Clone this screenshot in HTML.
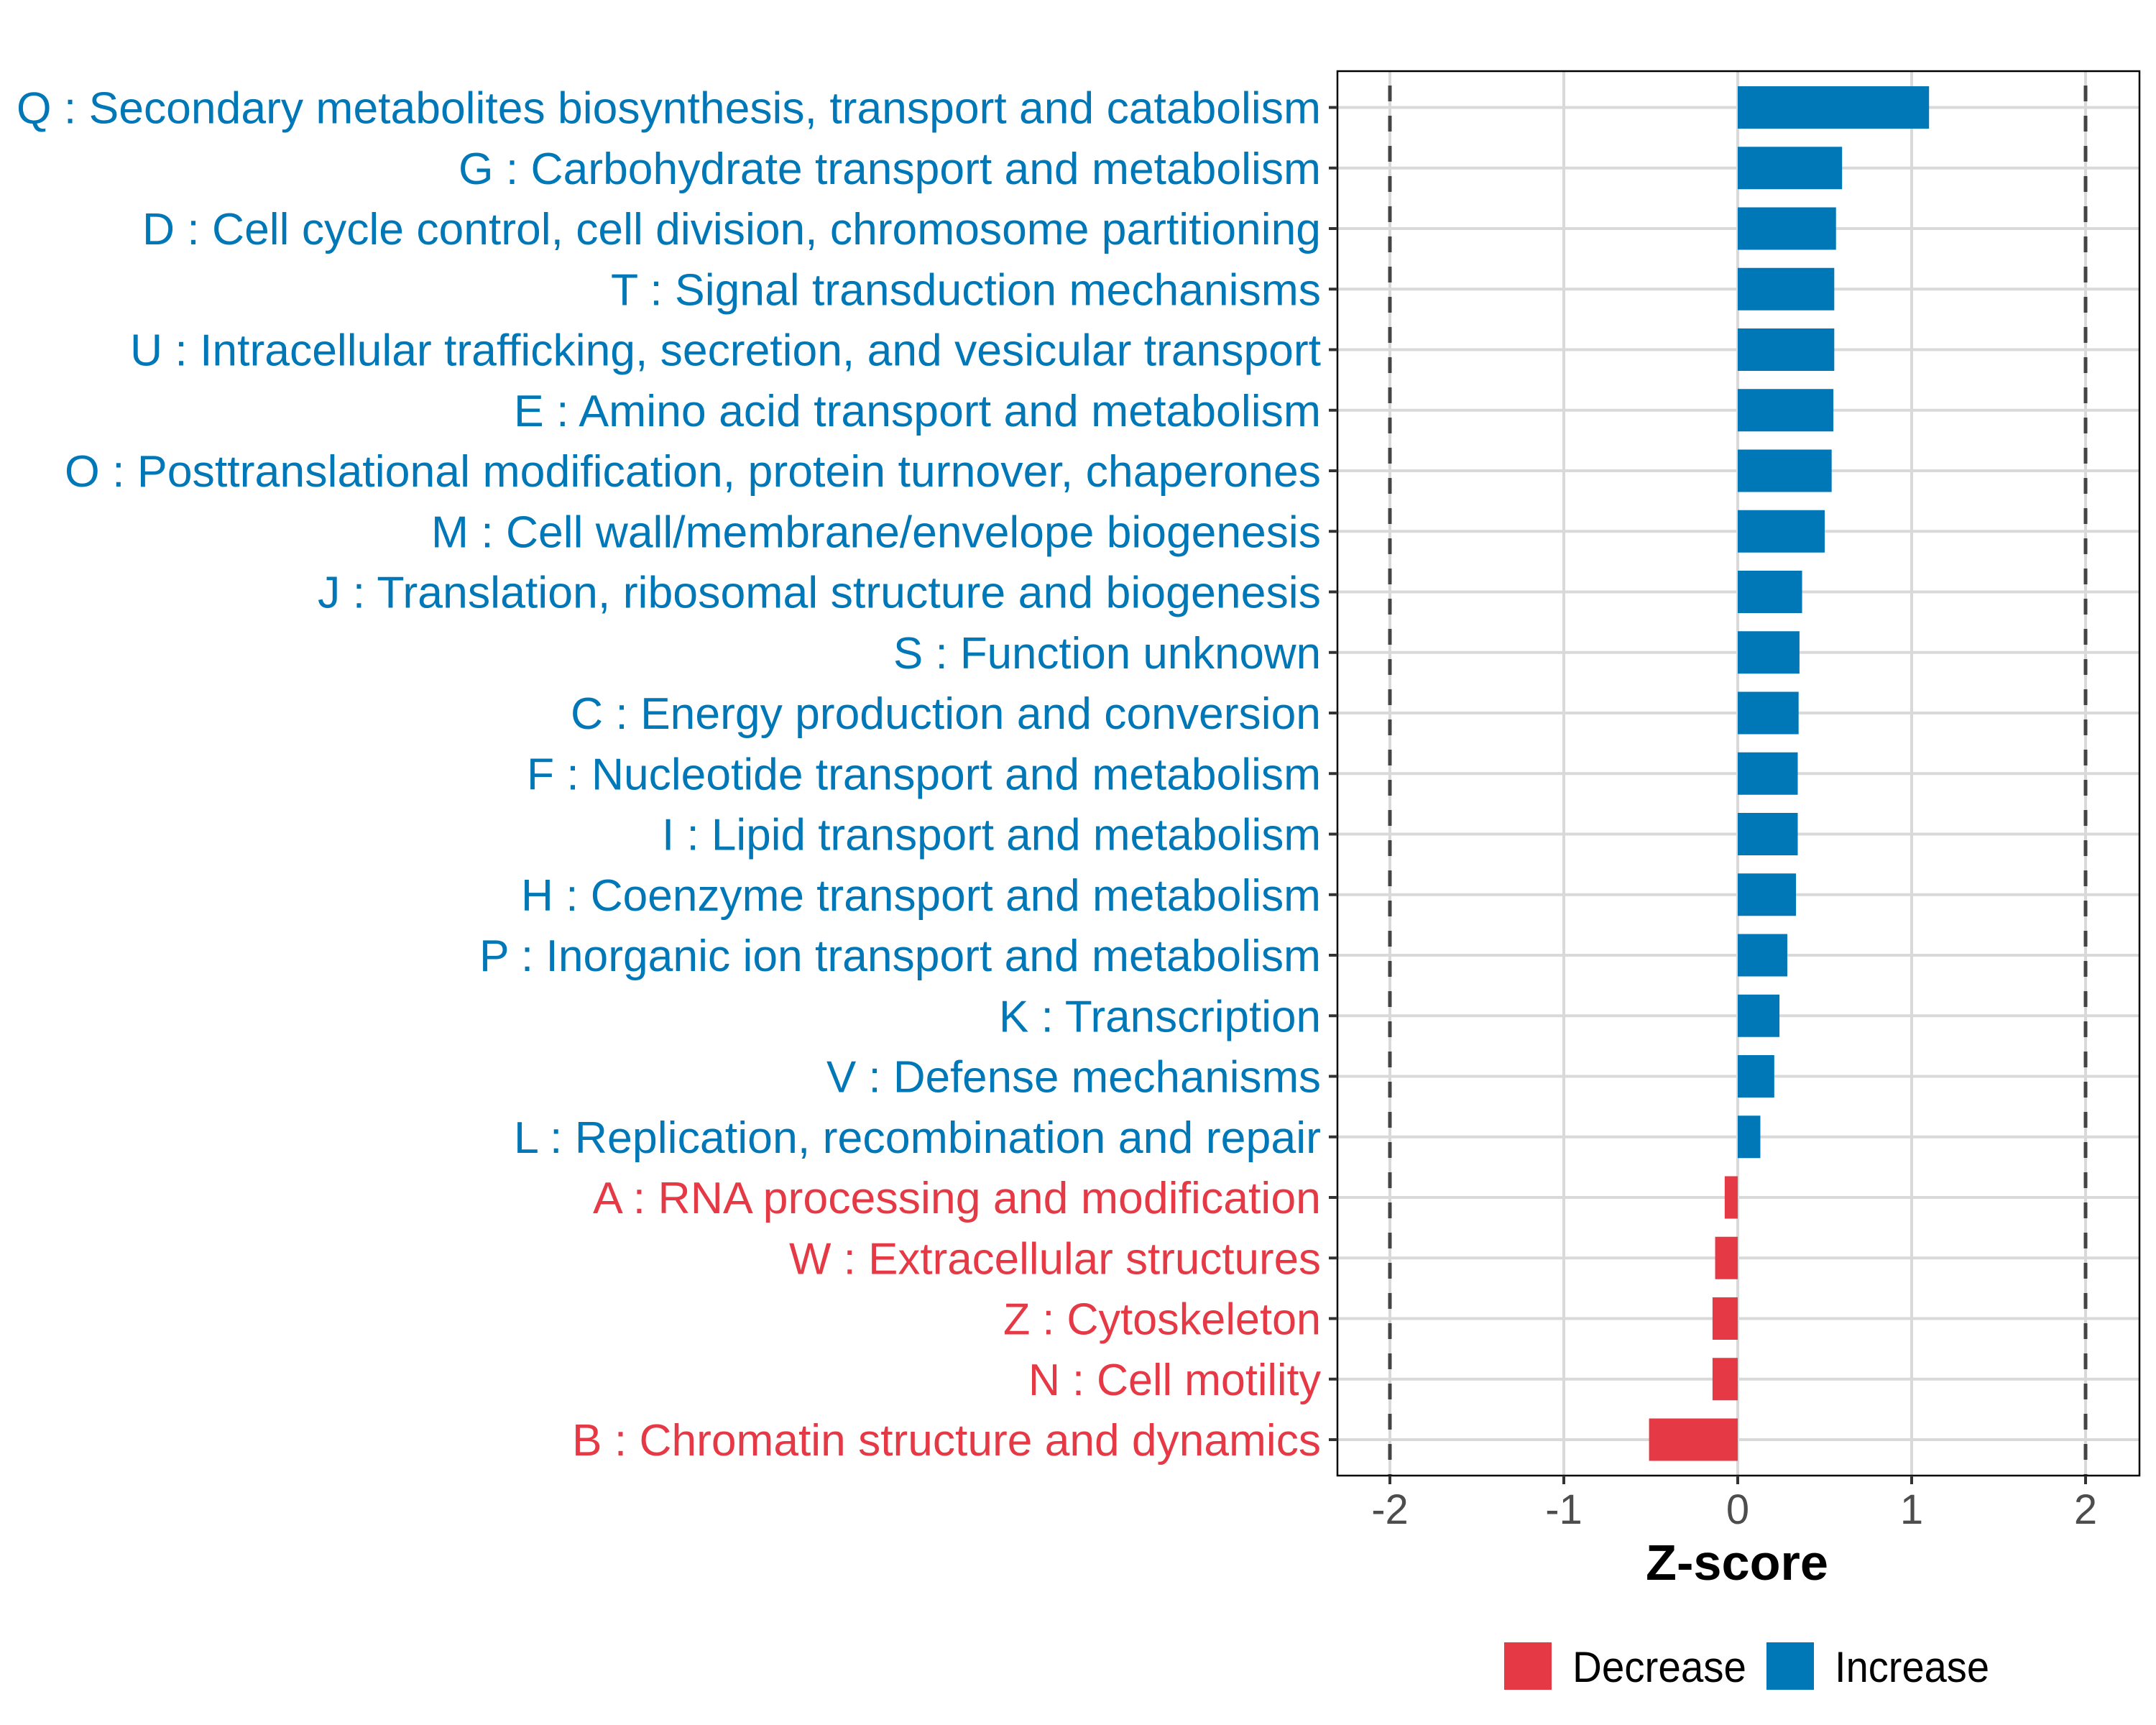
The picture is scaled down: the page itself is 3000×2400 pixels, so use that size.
<!DOCTYPE html>
<html><head><meta charset="utf-8"><style>
html,body{margin:0;padding:0;background:#fff;}
svg{display:block;font-family:"Liberation Sans",Arial,sans-serif;}
</style></head><body>
<svg id="chart" width="3000" height="2400" viewBox="0 0 3000 2400" xmlns="http://www.w3.org/2000/svg">
<rect x="0" y="0" width="3000" height="2400" fill="#fff"/>
<g id="grid"></g>
<g id="bars"></g>
<g id="ylabels"></g>
<g id="xaxis"></g>
<text x="2417" y="2198" text-anchor="middle" font-size="70" font-weight="bold" fill="#000" textLength="254" lengthAdjust="spacingAndGlyphs">Z-score</text>
<g>
<rect x="2093" y="2285" width="66" height="66" fill="#E63946"/>
<text x="2188" y="2340" font-size="60" fill="#000" textLength="242" lengthAdjust="spacingAndGlyphs">Decrease</text>
<rect x="2458" y="2285" width="66" height="66" fill="#0077B6"/>
<text x="2553" y="2340" font-size="60" fill="#000" textLength="215" lengthAdjust="spacingAndGlyphs">Increase</text>
</g>
</svg>
<script>
const categories = ["Q : Secondary metabolites biosynthesis, transport and catabolism","G : Carbohydrate transport and metabolism","D : Cell cycle control, cell division, chromosome partitioning","T : Signal transduction mechanisms","U : Intracellular trafficking, secretion, and vesicular transport","E : Amino acid transport and metabolism","O : Posttranslational modification, protein turnover, chaperones","M : Cell wall/membrane/envelope biogenesis","J : Translation, ribosomal structure and biogenesis","S : Function unknown","C : Energy production and conversion","F : Nucleotide transport and metabolism","I : Lipid transport and metabolism","H : Coenzyme transport and metabolism","P : Inorganic ion transport and metabolism","K : Transcription","V : Defense mechanisms","L : Replication, recombination and repair","A : RNA processing and modification","W : Extracellular structures","Z : Cytoskeleton","N : Cell motility","B : Chromatin structure and dynamics"];
const zscores = [1.10,0.60,0.565,0.555,0.555,0.55,0.54,0.50,0.37,0.355,0.35,0.345,0.345,0.335,0.285,0.24,0.21,0.13,-0.075,-0.13,-0.145,-0.145,-0.51];
const labelStarts = [23,638,198,850,181,715,90,600,442,1243,794,733,921,725,667,1390,1150,715,825,1098,1396,1431,796];
const xTicks = [-2,-1,0,1,2];
const xTickLabels = ["-2","-1","0","1","2"];
const thresholds = [-2,2];

const NS="http://www.w3.org/2000/svg";
const panel={left:1861,right:2977,top:99,bottom:2053};
const x0=2418, unit=242;
function xs(v){return x0+v*unit;}
const rowTop=149.5, rowStep=(2003-149.5)/(categories.length-1);
function ys(i){return rowTop+i*rowStep;}
const barH=59;
function mk(tag,attrs,parent){const e=document.createElementNS(NS,tag);for(const k in attrs)e.setAttribute(k,attrs[k]);parent.appendChild(e);return e;}
const grid=document.getElementById('grid'),bars=document.getElementById('bars'),yl=document.getElementById('ylabels'),xa=document.getElementById('xaxis');
xTicks.forEach((t,i)=>{
  const l=mk('line',{x1:xs(t),x2:xs(t),y1:panel.top,y2:panel.bottom,stroke:'#d9d9d9','stroke-width':4},grid);
  
  
});
categories.forEach((c,i)=>{
  const l=mk('line',{x1:panel.left,x2:panel.right,y1:ys(i),y2:ys(i),stroke:'#d9d9d9','stroke-width':4},grid);
  
  
});
categories.forEach((c,i)=>{
  const v=zscores[i];
  const x=Math.min(xs(0),xs(v)), w=Math.abs(xs(v)-xs(0));
  const r=mk('rect',{x:x,y:ys(i)-barH/2,width:w,height:barH,fill:v<0?'#E63946':'#0077B6'},bars);
  
  
});
thresholds.forEach(t=>{
  const l=mk('line',{x1:xs(t),x2:xs(t),y1:panel.top,y2:panel.bottom,stroke:'#444','stroke-width':5,'stroke-dasharray':'22 20','stroke-dashoffset':'-20'},bars);
  
  
});
const pb=mk('rect',{x:panel.left,y:panel.top,width:panel.right-panel.left,height:panel.bottom-panel.top,fill:'none',stroke:'#000','stroke-width':2.5},bars);


categories.forEach((c,i)=>{
  const tk=mk('line',{x1:panel.left-12,x2:panel.left,y1:ys(i),y2:ys(i),stroke:'#333','stroke-width':4},yl);
  
  
  const end=1838;
  const t=mk('text',{x:labelStarts[i],y:ys(i)+22,'font-size':62,fill:zscores[i]<0?'#E63946':'#0077B6',textLength:end-labelStarts[i],lengthAdjust:'spacingAndGlyphs'},yl);
  t.textContent=c;
  
  
});
xTicks.forEach((t,i)=>{
  const tk=mk('line',{x1:xs(t),x2:xs(t),y1:panel.bottom,y2:panel.bottom+12,stroke:'#333','stroke-width':4},xa);
  
  
  const lb=mk('text',{x:xs(t),y:2120,'text-anchor':'middle','font-size':58,fill:'#4d4d4d'},xa);
  lb.textContent=xTickLabels[i];
  
  
});
</script>
</body></html>
